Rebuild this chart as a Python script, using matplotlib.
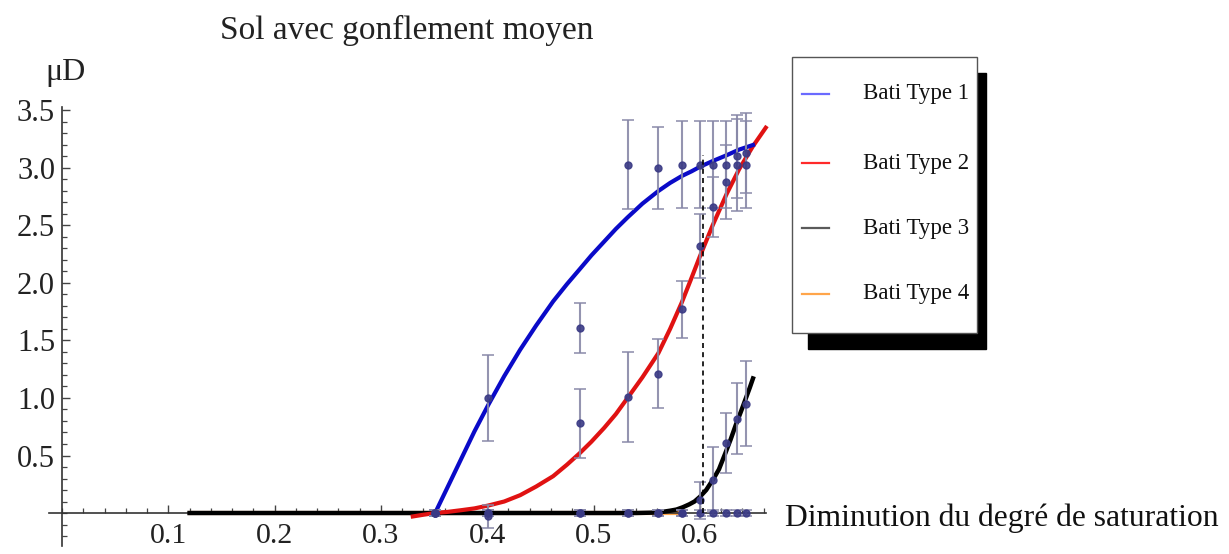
import numpy as np
import matplotlib.pyplot as plt
from matplotlib.patches import Rectangle
from matplotlib.lines import Line2D

plt.rcParams['font.family'] = ['Liberation Serif', 'DejaVu Serif']

# points de mesure (abscisse commune)
x_mes = [0.351, 0.401, 0.487, 0.532, 0.561, 0.583, 0.600, 0.612, 0.625, 0.635, 0.643]

y_type1 = [0.0, 1.00, 1.61, 3.03, 3.00, 3.03, 3.03, 3.03, 3.03, 3.03, 3.03]
e_type1 = [0.03, 0.37, 0.22, 0.39, 0.36, 0.38, 0.38, 0.38, 0.38, 0.40, 0.38]
y_type2 = [0.0, -0.03, 0.78, 1.01, 1.21, 1.77, 2.32, 2.66, 2.88, 3.10, 3.13]
e_type2 = [0.03, 0.10, 0.30, 0.39, 0.30, 0.25, 0.28, 0.26, 0.32, 0.36, 0.35]
y_type3 = [0.0, 0.0, 0.0, 0.0, 0.0, 0.0, 0.11, 0.29, 0.61, 0.82, 0.95]
e_type3 = [0.03, 0.03, 0.03, 0.03, 0.03, 0.03, 0.16, 0.28, 0.26, 0.31, 0.37]
y_type4 = [0.0, 0.0, 0.0, 0.0, 0.0, 0.0, 0.0, 0.0, 0.0, 0.0, 0.0]
e_type4 = [0.03, 0.03, 0.03, 0.03, 0.03, 0.03, 0.03, 0.03, 0.03, 0.03, 0.03]

# courbes ajustees
x_fit1 = [0.351, 0.363, 0.376, 0.388, 0.401, 0.416, 0.431, 0.446, 0.462, 0.475, 0.487, 0.498,
          0.510, 0.521, 0.532, 0.546, 0.561, 0.572, 0.583, 0.592, 0.600, 0.612, 0.625, 0.637, 0.650]
y_fit1 = [0.00, 0.23, 0.48, 0.71, 0.94, 1.19, 1.42, 1.63, 1.84, 1.99, 2.12, 2.24,
          2.36, 2.47, 2.57, 2.69, 2.80, 2.87, 2.93, 2.97, 3.01, 3.06, 3.11, 3.16, 3.20]
x_fit2 = [0.330, 0.340, 0.351, 0.363, 0.376, 0.388, 0.401, 0.416, 0.431, 0.446, 0.462, 0.475,
          0.487, 0.498, 0.510, 0.521, 0.532, 0.546, 0.561, 0.572, 0.583, 0.592, 0.600, 0.612,
          0.625, 0.637, 0.650, 0.662]
y_fit2 = [-0.03, -0.015, 0.00, 0.01, 0.025, 0.04, 0.065, 0.10, 0.155, 0.23, 0.32, 0.42,
          0.52, 0.62, 0.74, 0.86, 1.00, 1.18, 1.39, 1.60, 1.83, 2.04, 2.23, 2.50,
          2.77, 2.99, 3.19, 3.35]
x_fit3 = [0.120, 0.540, 0.555, 0.565, 0.572, 0.578, 0.584, 0.590, 0.595, 0.600, 0.606, 0.613,
          0.618, 0.624, 0.629, 0.634, 0.639, 0.643, 0.647, 0.650]
y_fit3 = [0.0, 0.0, 0.003, 0.01, 0.02, 0.03, 0.05, 0.075, 0.10, 0.14, 0.20, 0.30,
          0.38, 0.52, 0.64, 0.77, 0.89, 0.99, 1.09, 1.17]
x_fit4 = [0.120, 0.580]
y_fit4 = [0.0, 0.0]

x_seuil = 0.603
y_seuil = 3.11

x_ticks = [0.1, 0.2, 0.3, 0.4, 0.5, 0.6]
x_labels = ['0.1', '0.2', '0.3', '0.4', '0.5', '0.6']
y_ticks = [0.5, 1.0, 1.5, 2.0, 2.5, 3.0, 3.5]
y_labels = ['0.5', '1.0', '1.5', '2.0', '2.5', '3.0', '3.5']

noms = ['Bati Type 1', 'Bati Type 2', 'Bati Type 3', 'Bati Type 4']
couleurs_leg = ['#6a6aff', '#ff2a2a', '#5a5a5a', '#ffa54a']

fig = plt.figure(figsize=(12.29, 5.54), dpi=100)
ax = fig.add_axes([0.04006, 0.0138, 0.5830, 0.7930])
ax.set_xlim(-0.012, 0.662)
ax.set_ylim(-0.29, 3.53)

# axes facon Mathematica
for s in ['top', 'right']:
    ax.spines[s].set_visible(False)
for s in ['left', 'bottom']:
    ax.spines[s].set_position(('data', 0))
    ax.spines[s].set_color('#333333')
    ax.spines[s].set_linewidth(1.2)

ax.set_xticks(x_ticks)
ax.set_xticklabels(x_labels, fontsize=21.5)
ax.set_yticks(y_ticks)
ax.set_yticklabels(y_labels, fontsize=22)
ax.xaxis.set_minor_locator(plt.MultipleLocator(0.02))
ax.yaxis.set_minor_locator(plt.MultipleLocator(0.1))
ax.tick_params(which='major', direction='in', length=6, width=1, color='#444444', labelcolor='#222222')
ax.tick_params(which='minor', direction='in', length=3.5, width=0.9, color='#444444')
ax.tick_params(axis='x', pad=7.5)
ax.tick_params(axis='y', pad=5)

# courbes
ax.plot(x_fit4, y_fit4, color='#ffa54a', lw=3, zorder=2, clip_on=False)
ax.plot(x_fit3, y_fit3, color='black', lw=3.2, zorder=3, clip_on=False)
ax.plot(x_fit2, y_fit2, color='#e01212', lw=3, zorder=3, clip_on=False)
ax.plot(x_fit1, y_fit1, color='#0a0ac8', lw=3, zorder=3, clip_on=False)

# mesures avec barres d'erreur
for y, e in [(y_type4, e_type4), (y_type3, e_type3), (y_type2, e_type2), (y_type1, e_type1)]:
    ax.errorbar(x_mes, y, yerr=e, fmt='o', color='#3a3a85', markersize=5,
                ecolor='#8888a8', elinewidth=1.5, capsize=4.5, capthick=1.2, zorder=4, alpha=0.9)

ax.plot([x_seuil, x_seuil], [0, y_seuil], color='black', lw=1.2, ls=(0, (3, 2.5)), zorder=5)

# textes
fig.text(407 / 1229, 1 - 30 / 554, 'Sol avec gonflement moyen', fontsize=24,
         ha='center', va='center', color='#222222')
fig.text(66 / 1229, 1 - 80 / 554, 'μD', fontsize=23, ha='center', va='baseline', color='#222222')
fig.text(785 / 1229, 1 - 526 / 554, 'Diminution du degré de saturation', fontsize=22.8,
         ha='left', va='baseline', color='#111111')

# legende avec ombre
W, H = 1229, 554
fig.patches.append(Rectangle((808 / W, 1 - 349 / H), 178 / W, 276 / H, transform=fig.transFigure,
                             facecolor='black', edgecolor='black', zorder=1))
fig.patches.append(Rectangle((792 / W, 1 - 333 / H), 185 / W, 276 / H, transform=fig.transFigure,
                             facecolor='white', edgecolor='#555555', lw=1, zorder=2))
rows = [94, 163, 228, 294]
for nom, c, r in zip(noms, couleurs_leg, rows):
    fig.lines.append(Line2D([802 / W, 829 / W], [1 - r / H, 1 - r / H], transform=fig.transFigure,
                            color=c, lw=1.6, zorder=3))
    fig.text(863 / W, 1 - r / H, nom, fontsize=16.5, ha='left', va='center', zorder=3, color='#111111')

fig.savefig('out.png', dpi=100)
